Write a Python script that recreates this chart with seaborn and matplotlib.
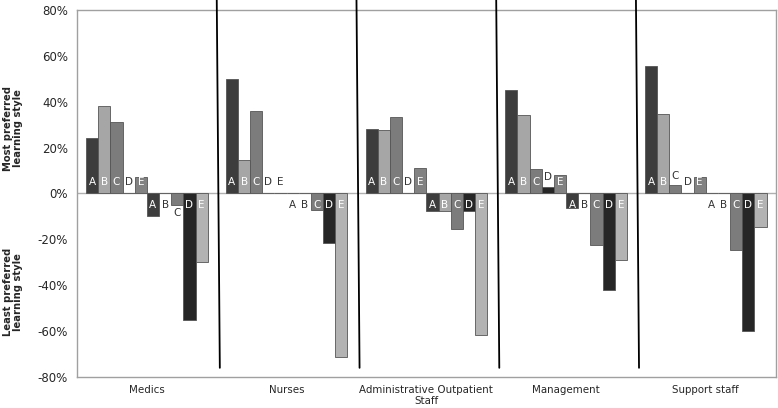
import numpy as np
import pandas as pd
import matplotlib
matplotlib.use("Agg")
import matplotlib.pyplot as plt
import seaborn as sns

# Datos (porcentajes)
groups = ["Medics", "Nurses", "Administrative Outpatient\nStaff", "Management", "Support staff"]
styles = ["A", "B", "C", "D", "E"]

most_A = [24, 50, 28, 45, 55.5]
most_B = [38, 14.5, 27.7, 34.4, 34.5]
most_C = [31, 36, 33.5, 10.8, 3.5]
most_D = [0, 0, 0, 2.8, 0]
most_E = [7, 0, 11.2, 8, 7.3]

least_A = [-10, 0, -7.7, -6.3, 0]
least_B = [0, 0, -7.7, 0, 0]
least_C = [-5, -7, -15.3, -22.4, -24.8]
least_D = [-55, -21.4, -7.7, -42, -60]
least_E = [-30, -71.5, -61.5, -29, -14.7]

most = [most_A, most_B, most_C, most_D, most_E]
least = [least_A, least_B, least_C, least_D, least_E]

colors_most = ["#3d3d3d", "#a6a6a6", "#7c7c7c", "#262626", "#828282"]
colors_least = ["#3d3d3d", "#a6a6a6", "#7c7c7c", "#262626", "#b3b3b3"]

rows = []
slots = []
for k, s in enumerate(styles):
    slots.append("most " + s)
    for g, v in zip(groups, most[k]):
        rows.append({"group": g, "slot": "most " + s, "value": v})
for k, s in enumerate(styles):
    slots.append("least " + s)
    for g, v in zip(groups, least[k]):
        rows.append({"group": g, "slot": "least " + s, "value": v})
df = pd.DataFrame(rows)

sns.set_style("white")
plt.rcParams["font.family"] = ["DejaVu Sans"]

fig = plt.figure(figsize=(7.78, 4.08), dpi=100)
ax = fig.add_axes([0.099, 0.076, 0.898, 0.8995])

ax.axhline(0, color="#b0b0b0", lw=1, zorder=1)
sns.barplot(data=df, x="group", y="value", hue="slot", order=groups, hue_order=slots,
            palette=colors_most + colors_least, width=0.87, gap=0, dodge=True,
            edgecolor="#555555", linewidth=0.6, legend=False, ax=ax, zorder=2)

# Letras en la base de cada barra
for k, cont in enumerate(ax.containers):
    letter = styles[k % 5]
    positive = k < 5
    for bar in cont:
        h = bar.get_height()
        cx = bar.get_x() + bar.get_width() / 2
        if positive:
            if h >= 5.5:
                y, c = 4.8, "white"
            elif h == 0:
                y, c = 4.8, "#333333"
            else:
                y, c = h + 4.2, "#333333"
        else:
            if h <= -5.5:
                y, c = -4.8, "white"
            elif h == 0:
                y, c = -4.8, "#333333"
            else:
                y, c = h - 3.7, "#333333"
        ax.text(cx, y, letter, ha="center", va="center", fontsize=7.5, color=c, zorder=3)

# Líneas separadoras entre grupos
for b in [0.5, 1.5, 2.5, 3.5]:
    ax.plot([b, b + 0.022], [84.5, -76], color="black", lw=1.3, clip_on=False, zorder=4)

ax.set_xlim(-0.5, 4.5)
ax.set_ylim(-80, 80)
ax.set_yticks(np.arange(-80, 81, 20))
ax.set_yticklabels([f"{v}%" for v in range(-80, 81, 20)], fontsize=8.5)
ax.set_xticks(range(len(groups)))
ax.set_xticklabels(groups, fontsize=7.4, multialignment="center", linespacing=1.05)
ax.tick_params(axis="both", length=0)
ax.tick_params(axis="y", pad=6.5)
ax.tick_params(axis="x", pad=6)
ax.set_xlabel("")
ax.set_ylabel("")
for sp in ax.spines.values():
    sp.set_color("#a0a0a0")
    sp.set_linewidth(1)

fig.text(0.017, 0.686, "Most preferred\nlearning style", rotation=90, ha="center", va="center",
         fontsize=7.2, fontweight="bold", multialignment="center", linespacing=1.05)
fig.text(0.017, 0.284, "Least preferred\nlearning style", rotation=90, ha="center", va="center",
         fontsize=7.2, fontweight="bold", multialignment="center", linespacing=1.05)

plt.savefig("out.png", dpi=100)
plt.close()
